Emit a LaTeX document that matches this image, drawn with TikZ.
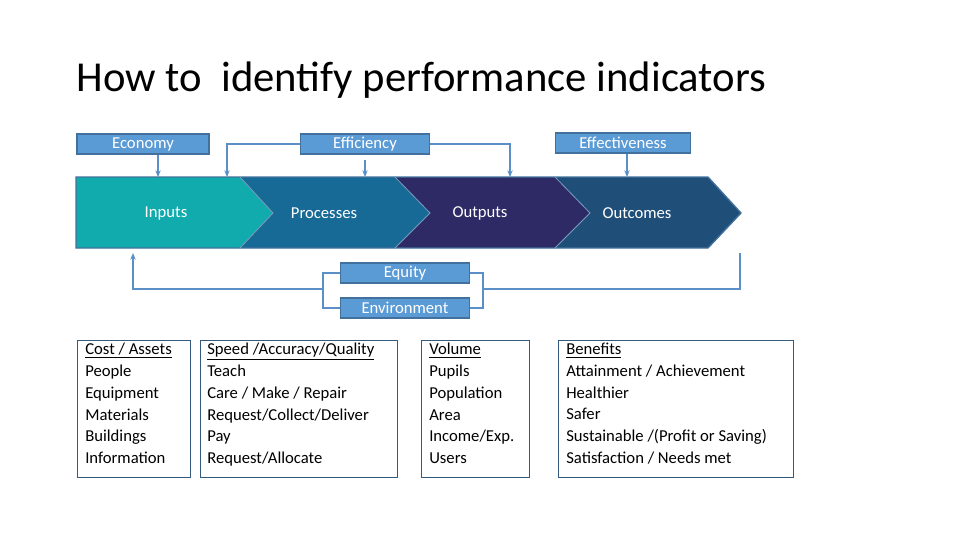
\documentclass[tikz,border=0pt]{standalone}
\usepackage{fontspec}
\setmainfont{Carlito}
\usetikzlibrary{arrows.meta,positioning}
\definecolor{tealin}{HTML}{12ABAD}
\definecolor{procblue}{HTML}{186A96}
\definecolor{outpurple}{HTML}{2E2A66}
\definecolor{outcblue}{HTML}{1F4E79}
\definecolor{tagfill}{HTML}{5B9BD5}
\definecolor{tagline}{HTML}{41719C}
\definecolor{linkblue}{HTML}{5B8FC7}
\begin{document}
\begin{tikzpicture}[x=0.75pt,y=-0.75pt,
    tag/.style={draw=tagline,line width=1pt,fill=tagfill,text=white,font=\fontsize{12.5}{14}\selectfont,minimum height=15pt,inner sep=0pt},
    link/.style={draw=linkblue,line width=0.9pt},
    arr/.style={link,-{Stealth[length=5pt,width=4pt]}},
    list/.style={draw=tagline!80!black,line width=0.7pt,anchor=north west,minimum height=103pt,inner sep=0pt},
    listtext/.style={align=left,anchor=north west,inner sep=0pt,font=\fontsize{12.5}{16.3}\selectfont},
    steptext/.style={text=white,font=\fontsize{12.5}{14}\selectfont}]
\useasboundingbox (0,0) rectangle (960,540);
\node[anchor=west,font=\fontsize{32}{36}\selectfont] (title) at (72,80) {How to\ \ identify performance indicators};

% chevrons
\fill[tealin] (76,177) -- (240,177) -- (273,213) -- (240,248) -- (76,248) -- cycle;
\fill[procblue] (240,177) -- (395,177) -- (430,213) -- (395,248) -- (240,248) -- (273,213) -- cycle;
\fill[outpurple] (395,177) -- (555,177) -- (590,213) -- (555,248) -- (395,248) -- (430,213) -- cycle;
\fill[outcblue] (555,177) -- (708,177) -- (741,213) -- (708,248) -- (555,248) -- (590,213) -- cycle;
\draw[tagline,line width=1pt] (76,177) -- (708,177) -- (741,213) -- (708,248) -- (76,248) -- cycle;
\foreach \a/\b in {240/273,395/430,555/590}
  \draw[tagline!70!white,line width=0.6pt] (\a,177) -- (\b,213) -- (\a,248);
\node[steptext] (inputs) at (166,213) {Inputs};
\node[steptext] (processes) at (324,213) {Processes};
\node[steptext] (outputs) at (480,213) {Outputs};
\node[steptext] (outcomes) at (637,213) {Outcomes};

% tags
\node[tag,minimum width=99pt] (economy) at (143,144) {Economy};
\node[tag,minimum width=97pt] (efficiency) at (365,144) {Efficiency};
\node[tag,minimum width=101pt] (effect) at (623,143) {Effectiveness};
\node[tag,minimum width=97pt] (equity) at (405,273) {Equity};
\node[tag,minimum width=97pt] (environ) at (405,308) {Environment};

\coordinate (ecoin) at (158,177);
\coordinate (effin) at (365,177);
\coordinate (effgap) at (365,160);
\coordinate (procin) at (227,177);
\coordinate (outin) at (510,177);
\coordinate (outcin) at (627,177);
\coordinate (backin) at (133,253);
\coordinate (lbr) at (323,289);
\coordinate (rbr) at (483,289);
\coordinate (tipout) at (740,253);

\draw[arr] (economy.south -| ecoin) -- (ecoin);
\draw[arr] (efficiency.west) -| (procin);
\draw[arr] (effgap) -- (effin);
\draw[arr] (efficiency.east) -| (outin);
\draw[arr] (effect.south -| outcin) -- (outcin);
\draw[link] (equity.west) -| (323,308) -- (environ.west);
\draw[link] (equity.east) -| (483,308) -- (environ.east);
\draw[arr] (lbr) -| (backin);
\draw[link] (rbr) -| (tipout);

% lists
\node[list,minimum width=85pt] (costs) at (77,340) {};
\node[list,minimum width=148pt] (speed) at (200,340) {};
\node[list,minimum width=81pt] (volume) at (421,340) {};
\node[list,minimum width=176pt] (benefits) at (558,340) {};
\node[listtext] at (85,343) {\underline{Cost / Assets}\\People\\Equipment\\Materials\\Buildings\\Information};
\node[listtext] at (207,343) {\underline{Speed /Accuracy/Quality}\\Teach\\Care / Make / Repair\\Request/Collect/Deliver\\Pay\\Request/Allocate};
\node[listtext] at (429,343) {\underline{Volume}\\Pupils\\Population\\Area\\Income/Exp.\\Users};
\node[listtext] at (566,343) {\underline{Benefits}\\Attainment / Achievement\\Healthier\\Safer\\Sustainable /(Profit or Saving)\\Satisfaction / Needs met};
\end{tikzpicture}
\end{document}
